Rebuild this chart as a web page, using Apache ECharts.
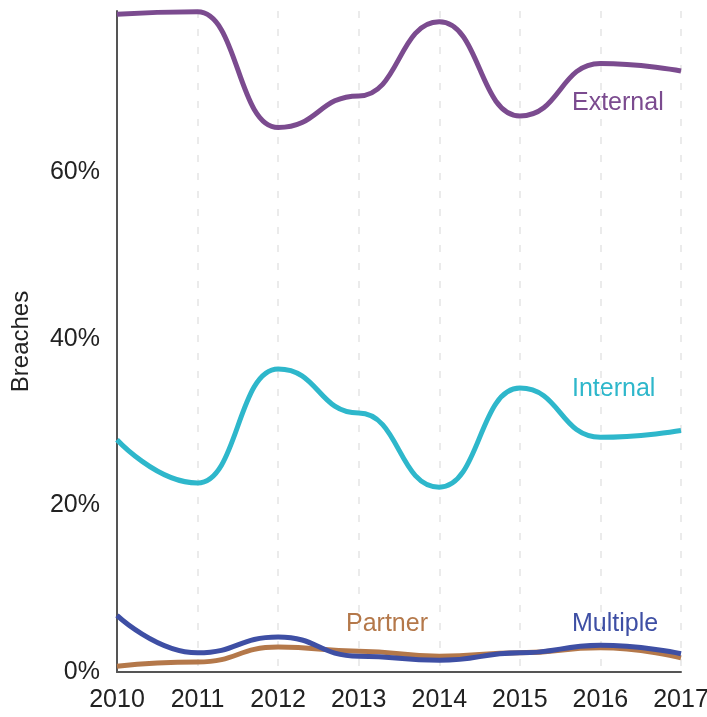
<!DOCTYPE html>
<html><head><meta charset="utf-8">
<script src="https://cdn.jsdelivr.net/npm/echarts@6/dist/echarts.min.js"></script>
<style>html,body{margin:0;padding:0;background:#fff}#c{width:707px;height:717px}</style>
</head><body><div id="c"></div>
<script>
var years = ['2010','2011','2012','2013','2014','2015','2016','2017'];
var external = [0.790, 0.793, 0.654, 0.692, 0.781, 0.668, 0.731, 0.722];
var internal = [0.279, 0.227, 0.364, 0.311, 0.222, 0.341, 0.282, 0.290];
var multiple = [0.068, 0.023, 0.042, 0.019, 0.014, 0.023, 0.032, 0.022];
var partner = [0.007, 0.012, 0.030, 0.025, 0.019, 0.023, 0.029, 0.017];
var yTicks = [0, 0.2, 0.4, 0.6];

var colors = {External:'#7b4b8f', Internal:'#2eb7cb', Multiple:'#3e4fa4', Partner:'#b4784a'};
var FONT = '"Liberation Sans", Arial, sans-serif';
var chart = echarts.init(document.getElementById('c'));
function ser(name, data){
  return {name:name, type:'line', data:data, smooth:0.5, smoothMonotone:'x', symbol:'none',
    lineStyle:{width:5, color:colors[name]}, itemStyle:{color:colors[name]}, z:2};
}
chart.setOption({
  animation:false,
  grid:{left:117, right:26, top:11, bottom:45, outerBoundsMode:'none', containLabel:false},
  xAxis:{type:'category', data:years, boundaryGap:false,
    axisLine:{lineStyle:{color:'#555', width:2}}, axisTick:{show:false},
    axisLabel:{color:'#222', fontSize:25, fontFamily:FONT, margin:16},
    splitLine:{show:true, lineStyle:{color:'#ebebeb', width:2, type:[7,11]}}},
  yAxis:{type:'value', min:0, max:0.794, interval:0.2, name:'Breaches', nameLocation:'middle', nameGap:84,
    nameTextStyle:{color:'#222', fontSize:24, fontFamily:FONT},
    axisLine:{show:true, lineStyle:{color:'#555', width:2}}, axisTick:{show:false},
    axisLabel:{color:'#222', fontSize:25, fontFamily:FONT, margin:17, showMaxLabel:false,
      formatter:function(v){ return yTicks.some(function(t){return Math.abs(t-v)<1e-6;}) ? Math.round(v*100)+'%' : ''; }},
    splitLine:{show:false}},
  series:[ser('External', external), ser('Internal', internal), ser('Partner', partner), ser('Multiple', multiple)],
  graphic:[
    {type:'text', left:572, top:91, style:{text:'External', fill:colors.External, font:'25px '+FONT}},
    {type:'text', left:572, top:377, style:{text:'Internal', fill:colors.Internal, font:'25px '+FONT}},
    {type:'text', left:346, top:612, style:{text:'Partner', fill:colors.Partner, font:'25px '+FONT}},
    {type:'text', left:572, top:612, style:{text:'Multiple', fill:colors.Multiple, font:'25px '+FONT}}
  ]
});
</script></body></html>
